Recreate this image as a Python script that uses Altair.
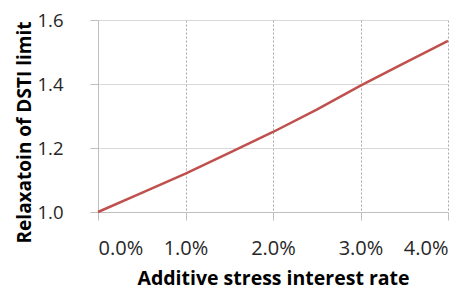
import altair as alt
import pandas as pd

rates = [0.0, 0.005, 0.01, 0.015, 0.02, 0.025, 0.03, 0.035, 0.04]
relax = [1.0, 1.06, 1.12, 1.185, 1.25, 1.32, 1.395, 1.465, 1.535]

df = pd.DataFrame({"rate": rates, "relax": relax})

font = "Open Sans"

chart = alt.Chart(df).mark_line(color="#C0504D", strokeWidth=2.5).encode(
    x=alt.X("rate:Q",
            scale=alt.Scale(domain=[0, 0.04], nice=False),
            axis=alt.Axis(title="Additive stress interest rate", format=".1%",
                          values=[0, 0.01, 0.02, 0.03, 0.04],
                          grid=True, gridDash=[2, 2], gridColor="#A6A6A6",
                          domainColor="#BFBFBF", tickColor="#BFBFBF", tickSize=8,
                          labelFontSize=20, labelColor="#262626", labelPadding=18,
                          labelOverlap=False,
                          titleFontSize=19.5, titleFontWeight="bold", titleColor="#000000",
                          titlePadding=11)),
    y=alt.Y("relax:Q",
            scale=alt.Scale(domain=[1.0, 1.6], nice=False, zero=False),
            axis=alt.Axis(title="Relaxatoin of DSTI limit", format=".1f",
                          values=[1.0, 1.2, 1.4, 1.6],
                          grid=True, gridColor="#D9D9D9",
                          domainColor="#BFBFBF", tickColor="#BFBFBF", tickSize=8,
                          labelFontSize=18.5, labelColor="#262626", labelPadding=27,
                          titleFontSize=19, titleFontWeight="bold", titleColor="#000000",
                          titleX=-64, titleY=112)),
).properties(
    width=350, height=192,
    autosize=alt.AutoSizeParams(type="none"),
    padding={"left": 90, "top": 12, "right": 19, "bottom": 78},
).configure(font=font).configure_view(stroke=None)

chart.save("out.html", embed_options={"renderer": "svg", "actions": False})
